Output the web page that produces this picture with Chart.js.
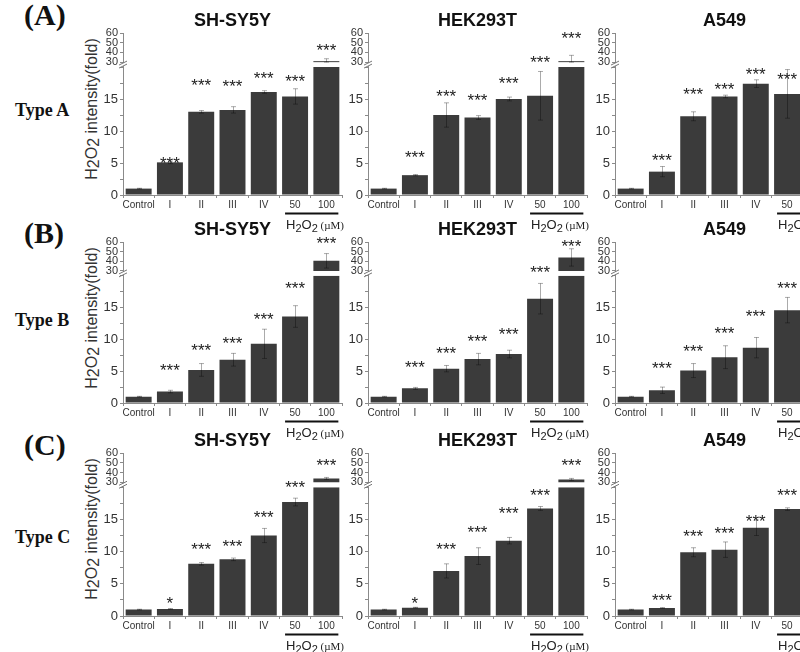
<!DOCTYPE html>
<html>
<head>
<meta charset="utf-8">
<script src="https://cdn.jsdelivr.net/npm/chart.js@4.4.1/dist/chart.umd.min.js"></script>
<style>
html, body { margin:0; padding:0; background:#fff; width:800px; height:652px; overflow:hidden; position:relative; }
canvas { position:absolute; }
.tag { position:absolute; font-family:"Liberation Serif","Times New Roman",serif; font-weight:bold; color:#111; line-height:1; transform:translateY(-50%); white-space:nowrap; }
.ytitle { position:absolute; font-family:"Liberation Sans",Arial,sans-serif; font-size:16px; color:#333; white-space:nowrap; transform:translate(-50%,-50%) rotate(-90deg); }
.ytitle span { position:relative; top:2px; }
</style>
</head>
<body>
<script>
// --- data ---
const categories = ['Control', 'I', 'II', 'III', 'IV', '50', '100'];
const cellLines = ['SH-SY5Y', 'HEK293T', 'A549'];
const rowTags = ['(A)', '(B)', '(C)'];
const rowNames = ['Type A', 'Type B', 'Type C'];

// Type A
const typeA_SHSY5Y       = [1.0, 5.1, 13.0, 13.3, 16.1, 15.4, 31.0];
const typeA_SHSY5Y_err   = [0.05, 0.2, 0.2, 0.5, 0.2, 1.2, 2.5];
const typeA_SHSY5Y_sig   = ['', '***', '***', '***', '***', '***', '***'];
const typeA_SHSY5Y_sigAt = [null, 5.5, 17.7, 17.5, 18.7, 18.3, 45.5];

const typeA_HEK293T       = [1.0, 3.1, 12.5, 12.1, 15.0, 15.5, 31.0];
const typeA_HEK293T_err   = [0.05, 0.1, 1.9, 0.3, 0.3, 3.8, 6.0];
const typeA_HEK293T_sig   = ['', '***', '***', '***', '***', '***', '***'];
const typeA_HEK293T_sigAt = [null, 6.4, 15.9, 15.3, 17.9, 21.2, 58];

const typeA_A549       = [1.0, 3.65, 12.3, 15.4, 17.4, 15.8, 32.0];
const typeA_A549_err   = [0.05, 0.8, 0.7, 0.2, 0.6, 3.8, 2.0];
const typeA_A549_sig   = ['', '***', '***', '***', '***', '***', '***'];
const typeA_A549_sigAt = [null, 5.9, 16.2, 17.1, 19.3, 18.6, 45];

// Type B
const typeB_SHSY5Y       = [1.0, 1.8, 5.2, 6.8, 9.3, 13.6, 40.5];
const typeB_SHSY5Y_err   = [0.05, 0.2, 1.0, 1.0, 2.3, 1.7, 7.5];
const typeB_SHSY5Y_sig   = ['', '***', '***', '***', '***', '***', '***'];
const typeB_SHSY5Y_sigAt = [null, 5.6, 8.75, 9.9, 13.7, 18.5, 62];

const typeB_HEK293T       = [1.0, 2.3, 5.4, 6.9, 7.7, 16.4, 44.0];
const typeB_HEK293T_err   = [0.05, 0.15, 0.5, 0.9, 0.6, 2.4, 9.0];
const typeB_HEK293T_sig   = ['', '***', '***', '***', '***', '***', '***'];
const typeB_HEK293T_sigAt = [null, 6.1, 8.4, 10.2, 11.3, 21.0, 58.6];

const typeB_A549       = [1.0, 2.0, 5.1, 7.2, 8.7, 14.6, 40.0];
const typeB_A549_err   = [0.05, 0.5, 1.1, 1.8, 1.6, 2.0, 5.0];
const typeB_A549_sig   = ['', '***', '***', '***', '***', '***', '***'];
const typeB_A549_sigAt = [null, 6.0, 8.7, 11.5, 14.1, 18.6, 50];

// Type C
const typeC_SHSY5Y       = [1.0, 1.1, 8.1, 8.8, 12.5, 17.7, 34.0];
const typeC_SHSY5Y_err   = [0.05, 0.05, 0.2, 0.2, 1.1, 0.6, 1.0];
const typeC_SHSY5Y_sig   = ['', '*', '***', '***', '***', '***', '***'];
const typeC_SHSY5Y_sigAt = [null, 2.5, 10.9, 11.4, 15.9, 20.5, 51];

const typeC_HEK293T       = [1.0, 1.3, 7.0, 9.3, 11.7, 16.7, 33.0];
const typeC_HEK293T_err   = [0.05, 0.05, 1.1, 1.3, 0.5, 0.3, 1.0];
const typeC_HEK293T_sig   = ['', '*', '***', '***', '***', '***', '***'];
const typeC_HEK293T_sigAt = [null, 2.5, 10.8, 13.5, 16.5, 19.3, 51];

const typeC_A549       = [1.0, 1.25, 9.9, 10.3, 13.7, 16.6, 33.0];
const typeC_A549_err   = [0.05, 0.05, 0.7, 1.2, 1.2, 0.2, 1.0];
const typeC_A549_sig   = ['', '***', '***', '***', '***', '***', '***'];
const typeC_A549_sigAt = [null, 3.0, 12.9, 13.3, 15.2, 19.2, 50];

const upperTicks = [30, 40, 50, 60];

// --- layout ---
const LOW_MAX = 20;    // top of lower (unbroken) axis
const GAP_MIN = 25;    // upper axis starts here, ticks from 30
const rowTop = [33, 242, 453];   // pixel of "60"
const rowBot = [195, 403, 616];  // pixel of "0"
const colAxis = [123, 368, 615];
const SANS = '"Liberation Sans", Arial, sans-serif';

const panels = [
  [
    {vals: typeA_SHSY5Y, err: typeA_SHSY5Y_err, sig: typeA_SHSY5Y_sig, sigAt: typeA_SHSY5Y_sigAt},
    {vals: typeA_HEK293T, err: typeA_HEK293T_err, sig: typeA_HEK293T_sig, sigAt: typeA_HEK293T_sigAt},
    {vals: typeA_A549, err: typeA_A549_err, sig: typeA_A549_sig, sigAt: typeA_A549_sigAt}
  ],
  [
    {vals: typeB_SHSY5Y, err: typeB_SHSY5Y_err, sig: typeB_SHSY5Y_sig, sigAt: typeB_SHSY5Y_sigAt},
    {vals: typeB_HEK293T, err: typeB_HEK293T_err, sig: typeB_HEK293T_sig, sigAt: typeB_HEK293T_sigAt},
    {vals: typeB_A549, err: typeB_A549_err, sig: typeB_A549_sig, sigAt: typeB_A549_sigAt}
  ],
  [
    {vals: typeC_SHSY5Y, err: typeC_SHSY5Y_err, sig: typeC_SHSY5Y_sig, sigAt: typeC_SHSY5Y_sigAt},
    {vals: typeC_HEK293T, err: typeC_HEK293T_err, sig: typeC_HEK293T_sig, sigAt: typeC_HEK293T_sigAt},
    {vals: typeC_A549, err: typeC_A549_err, sig: typeC_A549_sig, sigAt: typeC_A549_sigAt}
  ]
];

// error bars, stars, titles, axis break and the H2O2 bracket
const decor = {
  id: 'decor',
  afterDraw(chart, args, o) {
    const {ctx, chartArea: a, scales} = chart;
    const x = scales.x, y = scales.y, y2 = scales.y2;
    const scaleFor = v => (v > GAP_MIN ? y2 : y);
    ctx.save();

    // title
    ctx.font = 'bold 18px ' + SANS;
    ctx.fillStyle = '#111';
    ctx.textAlign = 'center';
    ctx.textBaseline = 'middle';
    ctx.fillText(o.title, (a.left + a.right) / 2, a.top - 12);

    // error bars (faint, as in the figure)
    ctx.strokeStyle = 'rgba(0,0,0,0.33)';
    ctx.lineWidth = 1;
    o.vals.forEach((v, i) => {
      const e = o.err[i];
      if (!e) return;
      const sc = scaleFor(v);
      const lo = v > GAP_MIN ? Math.max(v - e, 30) : v - e;
      const cx = Math.round(x.getPixelForValue(i)) + 0.5;
      const p1 = sc.getPixelForValue(lo), p2 = sc.getPixelForValue(v + e);
      ctx.beginPath();
      ctx.moveTo(cx, p1); ctx.lineTo(cx, p2);
      ctx.moveTo(cx - 2.5, p1); ctx.lineTo(cx + 2.5, p1);
      ctx.moveTo(cx - 2.5, p2); ctx.lineTo(cx + 2.5, p2);
      ctx.stroke();
    });

    // significance marks
    ctx.font = '17px ' + SANS;
    ctx.fillStyle = '#222';
    ctx.textBaseline = 'alphabetic';
    o.sig.forEach((s, i) => {
      if (!s) return;
      const at = o.sigAt[i];
      ctx.fillText(s, x.getPixelForValue(i), scaleFor(at).getPixelForValue(at) + 9);
    });

    // axis break
    const bx = a.left;
    const by = y2.getPixelForValue(27.5);
    ctx.fillStyle = '#fff';
    ctx.fillRect(bx - 2, by - 1.5, 4, 3);
    ctx.strokeStyle = '#777';
    ctx.beginPath();
    ctx.moveTo(bx - 4, by + 0.5); ctx.lineTo(bx + 4, by - 3.5);
    ctx.moveTo(bx - 4, by + 3.5); ctx.lineTo(bx + 4, by - 0.5);
    ctx.stroke();

    // H2O2 bracket under 50 / 100
    const xs = x.getPixelForValue(5) - 10, xe = x.getPixelForValue(6) + 12;
    ctx.fillStyle = '#111';
    ctx.fillRect(xs, a.bottom + 17.5, xe - xs, 2);
    let tx = xs + 1;
    const base = a.bottom + 34;
    ctx.textAlign = 'left';
    ctx.fillStyle = '#222';
    const put = (t, font, dy) => { ctx.font = font; ctx.fillText(t, tx, base + dy); tx += ctx.measureText(t).width; };
    put('H', '13px ' + SANS, 0);
    put('2', '11px ' + SANS, 2.5);
    put('O', '13px ' + SANS, 0);
    put('2', '11px ' + SANS, 2.5);
    put(' (\u00b5M)', '11px "Liberation Serif", "Times New Roman", serif', 0);

    ctx.restore();
  }
};

function makePanel(row, col) {
  const p = panels[row][col];
  const cv = document.createElement('canvas');
  const W = 260, H = 30 + (rowBot[row] - rowTop[row]) + 45;
  cv.width = W; cv.height = H;
  cv.style.left = (colAxis[col] - 33) + 'px';
  cv.style.top = (rowTop[row] - 30) + 'px';
  document.body.appendChild(cv);

  const axisGrid = {drawOnChartArea: false, tickLength: 3, color: '#8a8a8a'};
  new Chart(cv, {
    type: 'bar',
    data: {
      labels: categories,
      datasets: [
        {
          data: p.vals.map(v => Math.min(v, LOW_MAX)),
          yAxisID: 'y', grouped: false,
          backgroundColor: '#3b3b3b', barPercentage: 0.83, categoryPercentage: 1
        },
        {
          data: p.vals.map(v => (v > 30 ? [30, v] : null)),
          yAxisID: 'y2', grouped: false,
          backgroundColor: '#3b3b3b', barPercentage: 0.83, categoryPercentage: 1
        }
      ]
    },
    options: {
      responsive: false,
      animation: false,
      events: [],
      layout: {padding: {top: 30, right: 8, left: 0, bottom: 0}},
      plugins: {
        legend: {display: false},
        tooltip: {enabled: false},
        decor: {title: cellLines[col], vals: p.vals, err: p.err, sig: p.sig, sigAt: p.sigAt}
      },
      scales: {
        x: {
          grid: {drawOnChartArea: false, tickLength: 3, color: '#8a8a8a', offset: true},
          border: {color: '#8a8a8a'},
          ticks: {font: {size: 10, family: SANS}, color: '#333', padding: 1, autoSkip: false, maxRotation: 0},
          afterFit(s) { s.height = 45; }
        },
        y: {
          stack: 'brk', stackWeight: 128,
          min: 0, max: LOW_MAX,
          grid: axisGrid,
          border: {color: '#8a8a8a'},
          ticks: {
            stepSize: 2.5, autoSkip: false,
            callback: v => (v % 5 === 0 && v < LOW_MAX ? v : ''),
            font: {size: 13, family: SANS}, color: '#333', padding: 2
          },
          afterFit(s) { s.width = 33; }
        },
        y2: {
          stack: 'brk', stackWeight: 34,
          min: GAP_MIN, max: 60,
          grid: axisGrid,
          border: {color: '#8a8a8a'},
          ticks: {font: {size: 11, family: SANS}, color: '#333', padding: 2, autoSkip: false},
          afterBuildTicks(s) { s.ticks = upperTicks.map(v => ({value: v})); },
          afterFit(s) { s.width = 33; }
        }
      }
    },
    plugins: [decor]
  });
}

const yTitleY = [109, 318, 529];
for (let r = 0; r < 3; r++) {
  const tag = document.createElement('div');
  tag.className = 'tag';
  tag.style.cssText = 'left:24px;top:' + [15, 233, 445][r] + 'px;font-size:30px;';
  tag.textContent = rowTags[r];
  document.body.appendChild(tag);

  const name = document.createElement('div');
  name.className = 'tag';
  name.style.cssText = 'left:15px;top:' + [110, 320, 537][r] + 'px;font-size:18px;';
  name.textContent = rowNames[r];
  document.body.appendChild(name);

  const yt = document.createElement('div');
  yt.className = 'ytitle';
  yt.style.left = '92px';
  yt.style.top = yTitleY[r] + 'px';
  yt.innerHTML = 'H<span>2</span>O<span>2</span> intensity(fold)';
  document.body.appendChild(yt);

  for (let c = 0; c < 3; c++) makePanel(r, c);
}
</script>
</body>
</html>
